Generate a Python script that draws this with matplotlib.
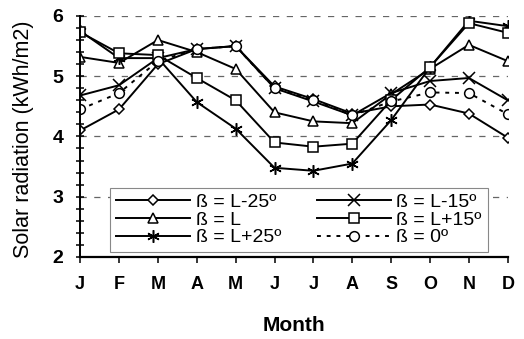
import numpy as np
import matplotlib.pyplot as plt

plt.rcParams['font.family'] = ['Liberation Sans', 'DejaVu Sans']

months = ['J', 'F', 'M', 'A', 'M', 'J', 'J', 'A', 'S', 'O', 'N', 'D']

# monthly solar radiation for each collector tilt (kWh/m2)
beta_l_m25 = [4.10, 4.45, 5.20, 5.45, 5.50, 4.83, 4.62, 4.38, 4.50, 4.53, 4.38, 3.98]
beta_l_m15 = [4.68, 4.85, 5.30, 5.45, 5.50, 4.80, 4.58, 4.35, 4.72, 4.92, 4.97, 4.60]
beta_l = [5.32, 5.22, 5.60, 5.40, 5.12, 4.40, 4.25, 4.22, 4.70, 5.12, 5.52, 5.25]
beta_l_p15 = [5.73, 5.38, 5.35, 4.97, 4.60, 3.90, 3.83, 3.88, 4.60, 5.15, 5.88, 5.72]
beta_l_p25 = [5.75, 5.30, 5.30, 4.57, 4.13, 3.48, 3.43, 3.55, 4.27, 5.15, 5.92, 5.83]
beta_0 = [4.45, 4.72, 5.25, 5.45, 5.50, 4.80, 4.60, 4.35, 4.58, 4.73, 4.72, 4.37]

x = np.arange(len(months))

fig = plt.figure(figsize=(5.24, 3.39), dpi=100)
ax = fig.add_axes([0.153, 0.242, 0.816, 0.711])

for g in [3, 4, 5, 6]:
    ax.axhline(g, color='#666666', lw=0.9, ls=(0, (5, 6)), zorder=0)

kw = dict(color='black', lw=1.4, mfc='white', mec='black', mew=1.1)
# plotted in column order so the 2-column legend reads row by row
ax.plot(x, beta_l_m25, marker='D', ms=5.5, label='ß = L-25º', **kw)
ax.plot(x, beta_l, marker='^', ms=7, label='ß = L', **kw)
ax.plot(x, beta_l_p25, marker=(6, 2, 0), ms=9, label='ß = L+25º', **kw)
ax.plot(x, beta_l_m15, marker='x', ms=8, label='ß = L-15º', **kw)
ax.plot(x, beta_l_p15, marker='s', ms=7, label='ß = L+15º', **kw)
ax.plot(x, beta_0, marker='o', ms=7, ls=(0, (2, 3)), label='ß = 0º', **kw)

ax.set_xlim(0, 11)
ax.set_ylim(2, 6)
ax.set_xticks(x)
ax.set_xticklabels(months, fontweight='bold', fontsize=13)
ax.set_yticks([2, 3, 4, 5, 6])
ax.set_yticks(np.arange(2, 6.01, 0.2), minor=True)
ax.tick_params(axis='y', which='both', direction='inout', length=6, width=1.1,
               labelsize=14, pad=9)
ax.tick_params(axis='x', direction='out', length=4, width=1.1, pad=10)
for t in ax.get_yticklabels():
    t.set_fontweight('bold')

for s in ['top', 'right']:
    ax.spines[s].set_visible(False)
ax.spines['left'].set_linewidth(1.4)
ax.spines['bottom'].set_linewidth(1.6)

ax.set_xlabel('Month', fontweight='bold', fontsize=15)
ax.xaxis.set_label_coords(0.5, -0.245)
ax.set_ylabel('Solar radiation (kWh/m2)', fontsize=15.5)
ax.yaxis.set_label_coords(-0.107, 0.49)

leg = ax.legend(loc='lower left', bbox_to_anchor=(0.07, 0.02, 0.883, 0.29), mode='expand',
                borderaxespad=0, ncol=2, fontsize=14, handlelength=3.8, handletextpad=0.3,
                labelspacing=0.0, borderpad=0.3, columnspacing=0.6,
                fancybox=False, framealpha=1, edgecolor='#888888')
leg.get_frame().set_linewidth(0.8)

fig.savefig('out.png', dpi=100)
